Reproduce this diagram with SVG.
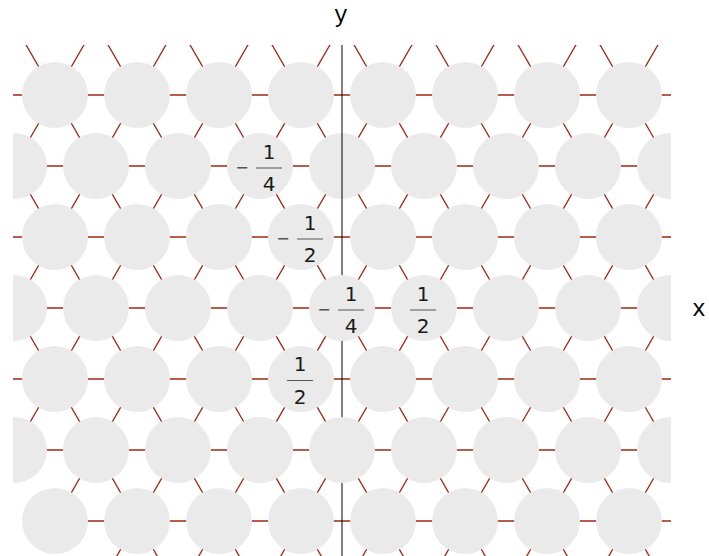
<svg xmlns="http://www.w3.org/2000/svg" width="709" height="556" viewBox="0 0 709 556">
<style>
.bond{stroke:#a02810;stroke-width:1.3;fill:none}
.site{fill:#eaeaea}
.axis{stroke:#000;stroke-width:1}
.num{font-family:"DejaVu Sans",sans-serif;font-size:20px;fill:#1a1a1a;text-anchor:middle}
.minus{font-family:"DejaVu Sans",sans-serif;font-size:16px;fill:#555;text-anchor:middle}
.bar{stroke:#555;stroke-width:1}
.ax{font-family:"Courier New","Nimbus Mono PS","Liberation Mono",monospace;font-size:23px;fill:#000;text-anchor:middle}
</style>
<defs>
<clipPath id="clip"><rect x="13" y="45" width="658" height="511"/></clipPath>
</defs>
<g id="connectors" clip-path="url(#clip)">
<path class="bond" d="M0 95H709M0 166H709M0 237H709M0 308H709M0 379H709M0 450H709M55 521H709"/>
<path class="bond" d="M96 24L-232 592M178 24L-150 592M260 24L-68 592M342 24L55 521M424 24L96 592M506 24L178 592M588 24L260 592M670 24L342 592M752 24L424 592M834 24L506 592M916 24L588 592"/>
<path class="bond" d="M-150 24L178 592M-68 24L260 592M14 24L342 592M96 24L424 592M178 24L506 592M260 24L588 592M342 24L670 592M424 24L752 592M506 24L834 592M588 24L916 592"/>
</g>
<g id="sites" clip-path="url(#clip)">
<g id="n1_4"><circle class="site" cx="342" cy="166" r="33"/></g>
</g>
<line id="y-axis" class="axis" x1="342" y1="45" x2="342" y2="556"/>
<g clip-path="url(#clip)">
<g id="n0_0"><circle class="site" cx="55" cy="95" r="33"/></g>
<g id="n0_1"><circle class="site" cx="137" cy="95" r="33"/></g>
<g id="n0_2"><circle class="site" cx="219" cy="95" r="33"/></g>
<g id="n0_3"><circle class="site" cx="301" cy="95" r="33"/></g>
<g id="n0_4"><circle class="site" cx="383" cy="95" r="33"/></g>
<g id="n0_5"><circle class="site" cx="465" cy="95" r="33"/></g>
<g id="n0_6"><circle class="site" cx="547" cy="95" r="33"/></g>
<g id="n0_7"><circle class="site" cx="629" cy="95" r="33"/></g>
<g id="n1_0"><circle class="site" cx="14" cy="166" r="33"/></g>
<g id="n1_1"><circle class="site" cx="96" cy="166" r="33"/></g>
<g id="n1_2"><circle class="site" cx="178" cy="166" r="33"/></g>
<g id="n1_3"><circle class="site" cx="260" cy="166" r="33"/><text class="minus" x="242" y="173">−</text><text class="num" x="269" y="159">1</text><line class="bar" x1="256" y1="168" x2="282" y2="168"/><text class="num" x="269" y="191">4</text></g>
<g id="n1_5"><circle class="site" cx="424" cy="166" r="33"/></g>
<g id="n1_6"><circle class="site" cx="506" cy="166" r="33"/></g>
<g id="n1_7"><circle class="site" cx="588" cy="166" r="33"/></g>
<g id="n1_8"><circle class="site" cx="670" cy="166" r="33"/></g>
<g id="n2_0"><circle class="site" cx="55" cy="237" r="33"/></g>
<g id="n2_1"><circle class="site" cx="137" cy="237" r="33"/></g>
<g id="n2_2"><circle class="site" cx="219" cy="237" r="33"/></g>
<g id="n2_3"><circle class="site" cx="301" cy="237" r="33"/><text class="minus" x="283" y="244">−</text><text class="num" x="310" y="230">1</text><line class="bar" x1="297" y1="239" x2="323" y2="239"/><text class="num" x="310" y="262">2</text></g>
<g id="n2_4"><circle class="site" cx="383" cy="237" r="33"/></g>
<g id="n2_5"><circle class="site" cx="465" cy="237" r="33"/></g>
<g id="n2_6"><circle class="site" cx="547" cy="237" r="33"/></g>
<g id="n2_7"><circle class="site" cx="629" cy="237" r="33"/></g>
<g id="n3_0"><circle class="site" cx="14" cy="308" r="33"/></g>
<g id="n3_1"><circle class="site" cx="96" cy="308" r="33"/></g>
<g id="n3_2"><circle class="site" cx="178" cy="308" r="33"/></g>
<g id="n3_3"><circle class="site" cx="260" cy="308" r="33"/></g>
<g id="n3_4"><circle class="site" cx="342" cy="308" r="33"/><text class="minus" x="324" y="315">−</text><text class="num" x="351" y="301">1</text><line class="bar" x1="338" y1="310" x2="364" y2="310"/><text class="num" x="351" y="333">4</text></g>
<g id="n3_5"><circle class="site" cx="424" cy="308" r="33"/><text class="num" x="423" y="301">1</text><line class="bar" x1="410" y1="310" x2="436" y2="310"/><text class="num" x="423" y="333">2</text></g>
<g id="n3_6"><circle class="site" cx="506" cy="308" r="33"/></g>
<g id="n3_7"><circle class="site" cx="588" cy="308" r="33"/></g>
<g id="n3_8"><circle class="site" cx="670" cy="308" r="33"/></g>
<g id="n4_0"><circle class="site" cx="55" cy="379" r="33"/></g>
<g id="n4_1"><circle class="site" cx="137" cy="379" r="33"/></g>
<g id="n4_2"><circle class="site" cx="219" cy="379" r="33"/></g>
<g id="n4_3"><circle class="site" cx="301" cy="379" r="33"/><text class="num" x="300" y="371">1</text><line class="bar" x1="287" y1="380.5" x2="313" y2="380.5"/><text class="num" x="300" y="404">2</text></g>
<g id="n4_4"><circle class="site" cx="383" cy="379" r="33"/></g>
<g id="n4_5"><circle class="site" cx="465" cy="379" r="33"/></g>
<g id="n4_6"><circle class="site" cx="547" cy="379" r="33"/></g>
<g id="n4_7"><circle class="site" cx="629" cy="379" r="33"/></g>
<g id="n5_0"><circle class="site" cx="14" cy="450" r="33"/></g>
<g id="n5_1"><circle class="site" cx="96" cy="450" r="33"/></g>
<g id="n5_2"><circle class="site" cx="178" cy="450" r="33"/></g>
<g id="n5_3"><circle class="site" cx="260" cy="450" r="33"/></g>
<g id="n5_4"><circle class="site" cx="342" cy="450" r="33"/></g>
<g id="n5_5"><circle class="site" cx="424" cy="450" r="33"/></g>
<g id="n5_6"><circle class="site" cx="506" cy="450" r="33"/></g>
<g id="n5_7"><circle class="site" cx="588" cy="450" r="33"/></g>
<g id="n5_8"><circle class="site" cx="670" cy="450" r="33"/></g>
<g id="n6_0"><circle class="site" cx="55" cy="521" r="33"/></g>
<g id="n6_1"><circle class="site" cx="137" cy="521" r="33"/></g>
<g id="n6_2"><circle class="site" cx="219" cy="521" r="33"/></g>
<g id="n6_3"><circle class="site" cx="301" cy="521" r="33"/></g>
<g id="n6_4"><circle class="site" cx="383" cy="521" r="33"/></g>
<g id="n6_5"><circle class="site" cx="465" cy="521" r="33"/></g>
<g id="n6_6"><circle class="site" cx="547" cy="521" r="33"/></g>
<g id="n6_7"><circle class="site" cx="629" cy="521" r="33"/></g>
</g>
<text class="ax" x="341" y="22">y</text>
<text class="ax" x="699" y="316">x</text>
</svg>
